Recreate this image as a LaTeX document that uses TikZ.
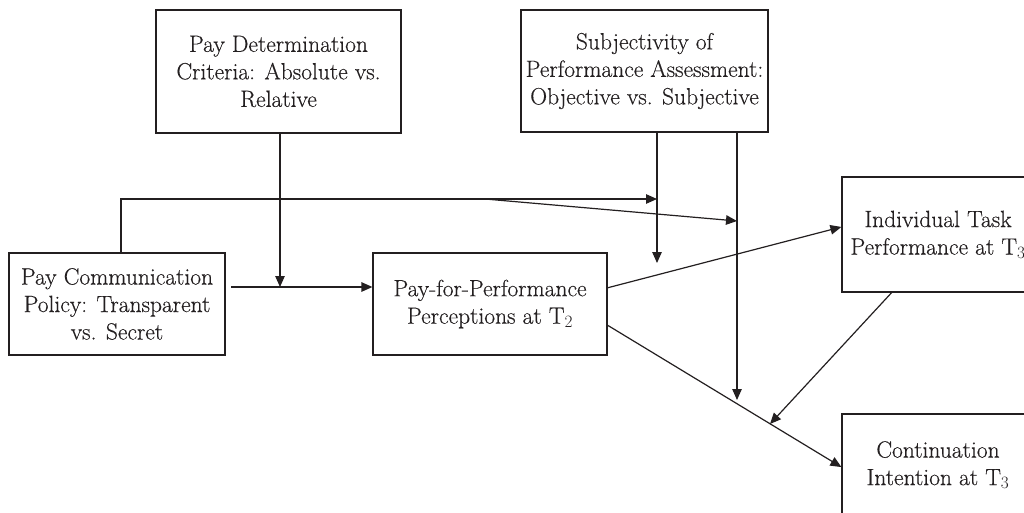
\documentclass[tikz,border=0pt]{standalone}
\usepackage{fontspec}
\setmainfont{Latin Modern Roman}[FakeBold=0.35]
\usetikzlibrary{arrows.meta,calc}
\definecolor{ink}{HTML}{231F20}
\begin{document}
\begin{tikzpicture}[x=1pt,y=-1pt,
  box/.style={draw=ink, line width=1.2pt, align=center, inner sep=0pt,
    font=\fontsize{23.5}{27.5}\selectfont, text=ink},
  conn/.style={draw=ink, line width=1.2pt},
  arr/.style={conn, -{Triangle[length=11pt,width=9.5pt]}}]
\useasboundingbox (0,0) rectangle (1024,513);
\node[box, minimum width=245pt, minimum height=123pt] (pdc) at (278.5,71.5)
  {Pay Determination\\Criteria: Absolute vs.\\Relative};
\node[box, minimum width=247pt, minimum height=122pt] (spa) at (644.5,71)
  {Subjectivity of\\Performance Assessment:\\Objective vs. Subjective};
\node[box, minimum width=216pt, minimum height=102pt] (pcp) at (117,304)
  {Pay Communication\\Policy: Transparent\\vs. Secret};
\node[box, minimum width=234pt, minimum height=102pt] (pfp) at (490,304)
  {Pay-for-Performance\\Perceptions at T$_2$};
\node[box, minimum width=192pt, minimum height=115pt] (it) at (938,234.5)
  {Individual Task\\Performance at T$_3$};
\node[box, minimum width=192pt, minimum height=102pt] (ci) at (938,465)
  {Continuation\\Intention at T$_3$};
\coordinate (c1) at (121,199);
\coordinate (c2) at (657,199);
\coordinate (c3) at (485,199);
\coordinate (c4) at (737,221);
\coordinate (c5) at (657,263);
\coordinate (c6) at (737,400);
\coordinate (c7) at (280,287);
\coordinate (c8) at (231,287);
\coordinate (c9) at (770,424);
\draw[arr] (pcp.north -| c1) -- (c1) -- (c2);
\draw[arr] (c3) -- (c4);
\draw[arr] (pdc.south -| c7) -- (c7);
\draw[arr] (c8) -- (pfp.west |- c8);
\draw[arr] (spa.south -| c5) -- (c5);
\draw[arr] (spa.south -| c6) -- (c6);
\draw[arr] ($(pfp.north east)!0.343!(pfp.south east)$) -- ($(it.north west)!0.435!(it.south west)$);
\draw[arr] ($(pfp.north east)!0.706!(pfp.south east)$) -- ($(ci.north west)!0.52!(ci.south west)$);
\draw[arr] ($(it.south west)!0.26!(it.south east)$) -- (c9);
\end{tikzpicture}
\end{document}
